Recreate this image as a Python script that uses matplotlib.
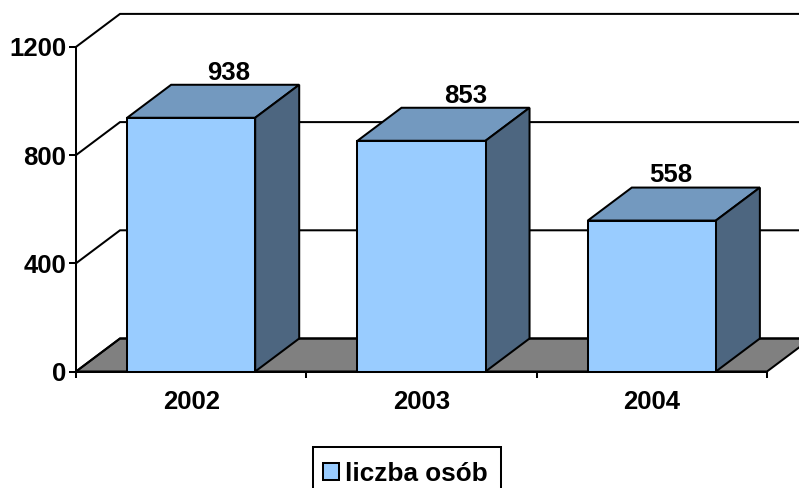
import matplotlib
matplotlib.use('Agg')
import matplotlib.pyplot as plt
from matplotlib.patches import Polygon, Rectangle
from matplotlib.transforms import ScaledTranslation

years = ['2002', '2003', '2004']
people = [938, 853, 558]
y_ticks = [0, 400, 800, 1200]
series_name = 'liczba osób'

W, H = 799, 489
FRONT, TOP, SIDE = '#99CCFF', '#7399BF', '#4D6680'
FLOOR = '#808080'
BAR_W = 0.556
# depth of the fake 3d box, in data units
DX = 44 / 230.3
DY = 33 / 0.2705
# labels do not sit on the bar centre in the original
label_shift = [37 / 230.3, 44 / 230.3, 19 / 230.3]
LW = 1.45

plt.rcParams['font.family'] = ['Liberation Sans', 'DejaVu Sans']
plt.rcParams['font.weight'] = 'bold'
plt.rcParams['font.size'] = 18.5

fig = plt.figure(figsize=(W / 100, H / 100), dpi=100)
ax = fig.add_axes([76 / W, 1 - 372.5 / H, (767 - 76) / W, (372.5 - 47.9) / H])
ax.set_xlim(-0.5, 2.5)
ax.set_ylim(0, 1200)

x0, x1 = ax.get_xlim()
far = x1 + DX

# floor
ax.add_patch(Polygon([(x0, 0), (x0 + DX, DY), (far, DY), (x1, 0)], closed=True,
                     facecolor=FLOOR, edgecolor='black', lw=LW, clip_on=False, zorder=1))

# back wall lines
for v in y_ticks:
    ax.plot([x0, x0 + DX, far], [v, v + DY, v + DY], color='black', lw=LW,
            clip_on=False, zorder=1.5, solid_joinstyle='miter')

# boxes
bars = ax.bar(range(3), people, width=BAR_W, color=FRONT, edgecolor='black',
              linewidth=LW, label=series_name, zorder=3, clip_on=False)
for i, v in enumerate(people):
    l, r = i - BAR_W / 2, i + BAR_W / 2
    ax.add_patch(Polygon([(l, v), (l + DX, v + DY), (r + DX, v + DY), (r, v)], closed=True,
                         facecolor=TOP, edgecolor='black', lw=LW, clip_on=False, zorder=2.5))
    ax.add_patch(Polygon([(r, 0), (r + DX, DY), (r + DX, v + DY), (r, v)], closed=True,
                         facecolor=SIDE, edgecolor='black', lw=LW, clip_on=False, zorder=2.5))
    ax.annotate(str(v), (i + label_shift[i], v + DY), xytext=(0, 4.5),
                textcoords='offset points', ha='center', va='baseline', fontsize=18.5)

for s in ['top', 'right']:
    ax.spines[s].set_visible(False)
for s in ['left', 'bottom']:
    ax.spines[s].set_linewidth(LW)
    ax.spines[s].set_zorder(4)

ax.set_yticks(y_ticks)
ax.set_xticks([-0.5, 0.5, 1.5, 2.5], labels=[])
ax.set_xticks(range(3), labels=years, minor=True)
ax.tick_params(axis='x', which='major', length=4, width=LW)
ax.tick_params(axis='x', which='minor', length=0, pad=12.5)
ax.tick_params(axis='y', length=5, width=LW, pad=2)
up = ScaledTranslation(0, 1 / 100, fig.dpi_scale_trans)
for lab in ax.get_yticklabels():
    lab.set_transform(lab.get_transform() + up)

# legend box runs off the bottom of the picture
fig.add_artist(Rectangle((313 / W, -10 / H), 188 / W, (41 + 10) / H,
                         transform=fig.transFigure, facecolor='white',
                         edgecolor='black', lw=LW, zorder=-1))
ax.legend(loc='upper left', bbox_to_anchor=(322.5 / W, 1 - 462.5 / H),
          bbox_transform=fig.transFigure, borderaxespad=0, fancybox=False,
          frameon=False, fontsize=18.8, borderpad=0,
          handlelength=0.63, handleheight=0.63, handletextpad=0.22)

fig.savefig('out.png', dpi=100)
